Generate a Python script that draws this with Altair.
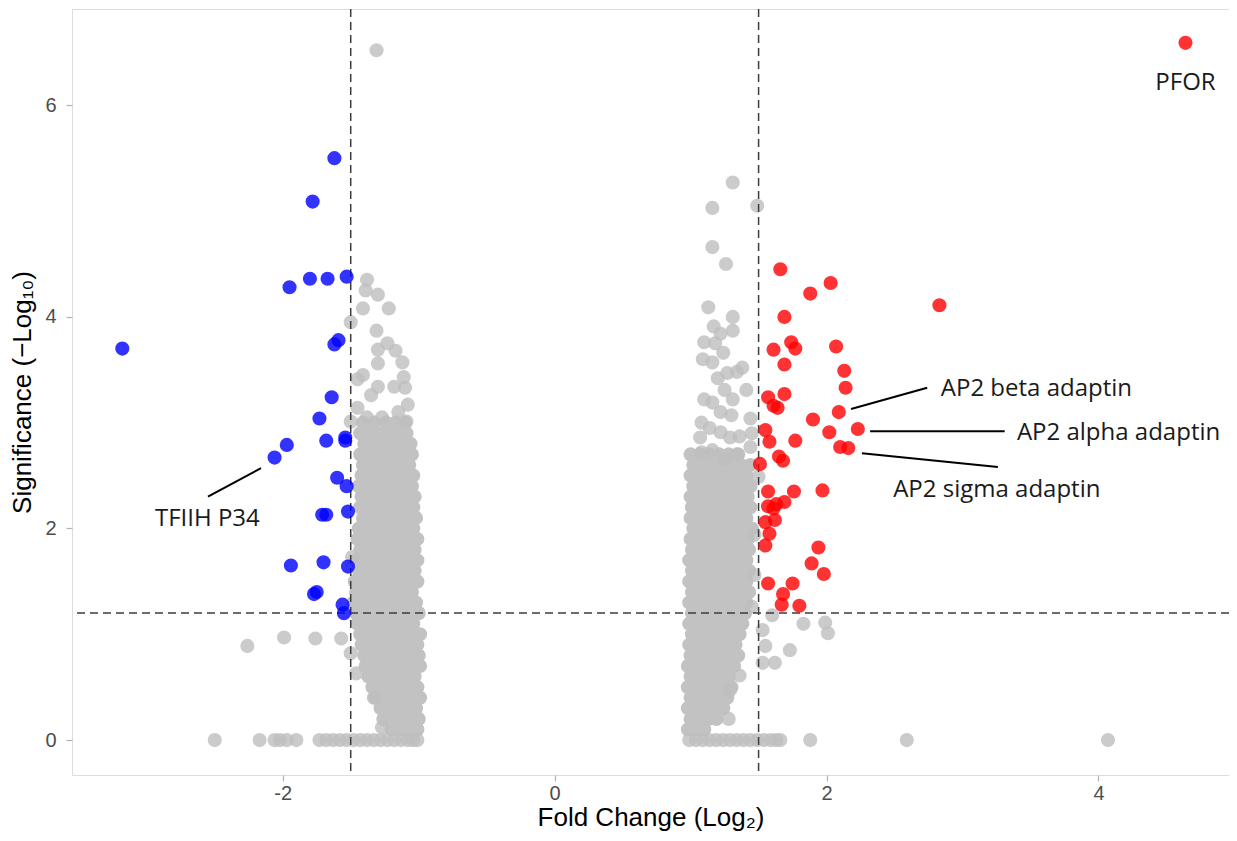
import altair as alt
import pandas as pd

# ---------------- data ----------------
# significantly down-regulated proteins (blue)
down_x = [-3.18, -1.62, -1.78, -1.95, -1.80, -1.67, -1.53, -1.59, -1.62, -1.64,
          -1.73, -1.68, -1.54, -1.54, -1.97, -2.06, -1.60, -1.53, -1.71, -1.68,
          -1.52, -1.94, -1.70, -1.52, -1.77, -1.75, -1.56, -1.55]
down_y = [3.70, 5.50, 5.09, 4.28, 4.36, 4.36, 4.38, 3.78, 3.74, 3.24,
          3.04, 2.83, 2.86, 2.83, 2.79, 2.67, 2.48, 2.40, 2.13, 2.13,
          2.16, 1.65, 1.68, 1.64, 1.38, 1.40, 1.28, 1.20]

# significantly up-regulated proteins (red)
up_x = [4.64, 2.83, 1.66, 2.03, 1.88, 1.69, 1.61, 1.74, 1.77, 2.07,
        1.69, 2.13, 2.14, 1.57, 1.69, 1.61, 1.64, 2.09, 1.90, 2.02,
        2.23, 1.55, 1.58, 1.77, 2.10, 2.16, 1.65, 1.68, 1.51, 1.57,
        1.76, 1.97, 1.57, 1.61, 1.63, 1.69, 1.55, 1.62, 1.58, 1.55,
        1.94, 1.89, 1.98, 1.57, 1.75, 1.68, 1.67, 1.80]
up_y = [6.59, 4.11, 4.45, 4.32, 4.22, 4.00, 3.69, 3.76, 3.70, 3.72,
        3.55, 3.49, 3.33, 3.24, 3.27, 3.16, 3.14, 3.10, 3.03, 2.91,
        2.94, 2.93, 2.82, 2.83, 2.77, 2.76, 2.68, 2.64, 2.61, 2.35,
        2.35, 2.36, 2.21, 2.19, 2.23, 2.25, 2.06, 2.08, 1.95, 1.84,
        1.82, 1.67, 1.57, 1.48, 1.48, 1.38, 1.28, 1.27]

# non-significant proteins: scattered ones
grey_x = [-1.31, -1.38, -1.39, -1.30, -1.41, -1.22, -1.50, -1.31, -1.23, -1.30,
          -1.17, -1.30, -1.12, -1.41, -1.45, -1.11, -1.30, -1.18, -1.10, -1.35,
          -1.08, -1.45, -1.15, -1.50, -1.38, -1.27, -1.09,
          -2.26, -1.99, -1.76, -1.57, -1.50, -1.46, -1.33, -1.27, -1.49,
          1.31, 1.16, 1.49, 1.16, 1.26, 1.13, 1.31, 1.17, 1.31, 1.22,
          1.10, 1.18, 1.24, 1.09, 1.16, 1.38, 1.34, 1.27, 1.20, 1.41,
          1.25, 1.10, 1.31, 1.16, 1.30, 1.22, 1.08, 1.44, 1.14, 1.22,
          1.36, 1.07, 1.45, 1.29, 1.08, 1.16, 1.34, 1.25, 1.44,
          1.50, 1.47, 1.47, 1.45,
          1.60, 1.83, 1.99, 2.01, 1.53, 1.55, 1.73, 1.53, 1.62, 1.36, 1.28, 1.29]
grey_y = [6.52, 4.35, 4.25, 4.21, 4.08, 4.08, 3.95, 3.87, 3.75, 3.69,
          3.68, 3.56, 3.57, 3.45, 3.41, 3.43, 3.34, 3.34, 3.33, 3.26,
          3.17, 3.14, 3.10, 3.01, 3.05, 3.05, 3.01,
          0.89, 0.97, 0.96, 0.96, 0.82, 0.63, 0.40, 0.12, 1.73,
          5.27, 5.03, 5.05, 4.66, 4.50, 4.09, 4.00, 3.91, 3.87, 3.84,
          3.76, 3.75, 3.66, 3.60, 3.57, 3.52, 3.48, 3.47, 3.42, 3.31,
          3.31, 3.22, 3.22, 3.19, 3.07, 3.10, 3.00, 3.04, 2.95, 2.91,
          2.87, 2.86, 2.90, 2.86, 2.72, 2.74, 2.70, 2.65, 2.77,
          2.49, 1.94, 1.56, 1.26,
          1.18, 1.10, 1.11, 1.01, 1.04, 0.89, 0.85, 0.73, 0.73, 0.61, 0.20, 0.47]

# non-significant proteins with significance 0
zero_x = [-2.50, -2.17, -2.06, -2.02, -1.97, -1.90, -1.73, -1.68, -1.63, -1.58,
          -1.53, -1.48, -1.43, -1.38, -1.33, -1.28, -1.23, -1.18, -1.13, -1.08,
          -1.04, -1.01, 0.99, 1.04, 1.09, 1.14, 1.19, 1.24, 1.29, 1.34,
          1.39, 1.44, 1.49, 1.54, 1.59, 1.63, 1.66, 1.88, 2.59, 4.07]

# dense cloud, left band (significance level, fold changes)
left_rows_y = [3.0, 2.9, 2.8, 2.7, 2.6, 2.5, 2.4, 2.3, 2.2, 2.1,
               2.0, 1.9, 1.8, 1.7, 1.6, 1.5, 1.4, 1.3, 1.2, 1.1,
               1.0, 0.9, 0.8, 0.7, 0.6, 0.5, 0.4, 0.3, 0.2, 0.1]
left_rows_x = [
    [-1.41, -1.33, -1.24, -1.17, -1.10],
    [-1.43, -1.37, -1.30, -1.23, -1.16, -1.09],
    [-1.40, -1.33, -1.27, -1.20, -1.13, -1.06],
    [-1.43, -1.36, -1.30, -1.24, -1.17, -1.10, -1.05],
    [-1.41, -1.34, -1.27, -1.21, -1.14, -1.07],
    [-1.42, -1.36, -1.29, -1.22, -1.16, -1.09, -1.04],
    [-1.44, -1.38, -1.31, -1.25, -1.18, -1.11, -1.05],
    [-1.42, -1.35, -1.28, -1.21, -1.15, -1.08, -1.03],
    [-1.43, -1.37, -1.30, -1.24, -1.17, -1.10, -1.04],
    [-1.41, -1.34, -1.27, -1.20, -1.14, -1.07, -1.02],
    [-1.44, -1.38, -1.31, -1.24, -1.17, -1.10, -1.04],
    [-1.45, -1.39, -1.32, -1.26, -1.19, -1.12, -1.06, -1.01],
    [-1.43, -1.36, -1.29, -1.22, -1.15, -1.09, -1.03],
    [-1.46, -1.40, -1.33, -1.26, -1.19, -1.12, -1.06, -1.01],
    [-1.44, -1.37, -1.30, -1.23, -1.16, -1.09, -1.03],
    [-1.47, -1.41, -1.34, -1.27, -1.20, -1.13, -1.07, -1.01],
    [-1.46, -1.39, -1.32, -1.25, -1.18, -1.11, -1.05],
    [-1.48, -1.42, -1.35, -1.28, -1.21, -1.14, -1.08, -1.02],
    [-1.46, -1.39, -1.32, -1.25, -1.18, -1.11, -1.05, -1.00],
    [-1.45, -1.38, -1.31, -1.24, -1.17, -1.10, -1.04],
    [-1.43, -1.37, -1.30, -1.23, -1.16, -1.09, -1.03, -0.99],
    [-1.42, -1.35, -1.28, -1.21, -1.14, -1.07, -1.01],
    [-1.40, -1.34, -1.27, -1.20, -1.13, -1.06, -1.00],
    [-1.39, -1.32, -1.25, -1.18, -1.11, -1.05, -0.99],
    [-1.37, -1.30, -1.23, -1.16, -1.09, -1.03],
    [-1.34, -1.28, -1.21, -1.14, -1.07, -1.01],
    [-1.32, -1.25, -1.18, -1.11, -1.05, -0.99],
    [-1.28, -1.22, -1.15, -1.08, -1.02],
    [-1.26, -1.19, -1.12, -1.06, -1.00],
    [-1.20, -1.13, -1.07, -1.01],
]

# dense cloud, right band
right_rows_y = [2.7, 2.6, 2.5, 2.4, 2.3, 2.2, 2.1, 2.0, 1.9, 1.8,
                1.7, 1.6, 1.5, 1.4, 1.3, 1.2, 1.1, 1.0, 0.9, 0.8,
                0.7, 0.6, 0.5, 0.4, 0.3, 0.2, 0.1]
right_rows_x = [
    [1.00, 1.07, 1.14, 1.21, 1.28, 1.35],
    [1.02, 1.09, 1.16, 1.23, 1.30, 1.37, 1.44],
    [1.00, 1.06, 1.13, 1.20, 1.27, 1.34, 1.41],
    [1.02, 1.09, 1.16, 1.23, 1.30, 1.37, 1.44],
    [1.00, 1.07, 1.14, 1.21, 1.28, 1.35, 1.42],
    [1.01, 1.08, 1.15, 1.22, 1.29, 1.36, 1.44],
    [1.00, 1.06, 1.13, 1.20, 1.27, 1.34, 1.41],
    [1.02, 1.09, 1.16, 1.23, 1.30, 1.37, 1.45],
    [1.00, 1.07, 1.14, 1.21, 1.28, 1.35, 1.42],
    [1.01, 1.08, 1.15, 1.22, 1.29, 1.36, 1.43],
    [0.99, 1.06, 1.13, 1.20, 1.27, 1.34, 1.41],
    [1.01, 1.08, 1.15, 1.22, 1.29, 1.36, 1.43],
    [0.99, 1.06, 1.13, 1.20, 1.27, 1.34, 1.41],
    [1.01, 1.08, 1.15, 1.22, 1.29, 1.36, 1.43],
    [0.99, 1.06, 1.13, 1.20, 1.27, 1.34, 1.41],
    [1.01, 1.08, 1.15, 1.22, 1.29, 1.36, 1.40],
    [0.99, 1.06, 1.13, 1.20, 1.27, 1.34, 1.38],
    [1.01, 1.08, 1.15, 1.22, 1.29, 1.36],
    [0.99, 1.06, 1.13, 1.20, 1.27, 1.33],
    [1.00, 1.07, 1.14, 1.21, 1.28, 1.35],
    [0.98, 1.05, 1.12, 1.19, 1.26, 1.32],
    [1.00, 1.07, 1.14, 1.21, 1.28],
    [0.98, 1.05, 1.12, 1.19, 1.26, 1.30],
    [1.00, 1.07, 1.14, 1.21, 1.27],
    [0.98, 1.05, 1.12, 1.18, 1.24],
    [1.00, 1.07, 1.13, 1.19],
    [0.98, 1.04, 1.10],
]

# thresholds
fc_cut = [-1.5, 1.5]
sig_cut = [1.2]

# labels
label_text = ["PFOR", "AP2 beta adaptin", "AP2 alpha adaptin", "AP2 sigma adaptin", "TFIIH P34"]
label_x = [4.64, 2.84, 3.40, 2.49, -2.94]
label_y = [6.21, 3.32, 2.90, 2.36, 2.09]
label_align = ["center", "left", "left", "left", "left"]
leader_x1 = [2.18, 2.32, 2.26, -2.16]
leader_y1 = [3.13, 2.92, 2.71, 2.57]
leader_x2 = [2.74, 3.31, 3.26, -2.55]
leader_y2 = [3.33, 2.92, 2.58, 2.30]

# ---------------- tables ----------------
cx, cy = [], []
for yv, xs_ in zip(left_rows_y, left_rows_x):
    cx += xs_
    cy += [yv] * len(xs_)
for yv, xs_ in zip(right_rows_y, right_rows_x):
    cx += xs_
    cy += [yv] * len(xs_)
core_df = pd.DataFrame({"fc": cx, "sig": cy})
grey_df = pd.DataFrame({"fc": grey_x + zero_x, "sig": grey_y + [0.0] * len(zero_x)})
down_df = pd.DataFrame({"fc": down_x, "sig": down_y})
up_df = pd.DataFrame({"fc": up_x, "sig": up_y})
lab_df = pd.DataFrame({"t": label_text, "fc": label_x, "sig": label_y, "al": label_align})
lead_df = pd.DataFrame({"fc": leader_x1, "sig": leader_y1, "fc2": leader_x2, "sig2": leader_y2})

xs = alt.Scale(domain=[-3.55, 4.96], nice=False, zero=False)
ys = alt.Scale(domain=[-0.33, 6.91], nice=False, zero=False)

AX = dict(grid=False, domain=False, tickColor="#b3b3b3", tickWidth=1.2, tickSize=6,
          labelColor="#4d4d4d", labelFont="Liberation Sans", labelFontSize=20,
          titleColor="#000000", titleFont="Liberation Sans",
          titleFontWeight="normal", labelExpr="'' + datum.value")

X = alt.X("fc:Q", scale=xs, axis=alt.Axis(values=[-2, 0, 2, 4], title="Fold Change (Log₂)",
                                          labelPadding=2, titlePadding=1, titleFontSize=26, **AX))
Y = alt.Y("sig:Q", scale=ys, axis=alt.Axis(values=[0, 2, 4, 6], title="Significance (−Log₁₀)",
                                           labelPadding=10, titlePadding=9, titleFontSize=26, **AX))

SZ = 200
core = alt.Chart(core_df).mark_circle(color="#c2c2c2", size=SZ, opacity=1).encode(x=X, y=Y)
grey = alt.Chart(grey_df).mark_circle(color="#bebebe", size=SZ, opacity=0.8).encode(x="fc:Q", y="sig:Q")
down = alt.Chart(down_df).mark_circle(color="#0000ff", size=SZ, opacity=0.8).encode(x="fc:Q", y="sig:Q")
up = alt.Chart(up_df).mark_circle(color="#ff0000", size=SZ, opacity=0.8).encode(x="fc:Q", y="sig:Q")

vrule = alt.Chart(pd.DataFrame({"fc": fc_cut})).mark_rule(
    color="#3c3c3c", strokeDash=[8, 5], strokeWidth=1.5).encode(x="fc:Q")
hrule = alt.Chart(pd.DataFrame({"sig": sig_cut})).mark_rule(
    color="#3c3c3c", strokeDash=[8, 5], strokeWidth=1.5).encode(y="sig:Q")

leaders = alt.Chart(lead_df).mark_rule(color="#000000", strokeWidth=2).encode(
    x="fc:Q", y="sig:Q", x2="fc2:Q", y2="sig2:Q")
labels_c = alt.Chart(lab_df[lab_df.al == "center"]).mark_text(
    font="Open Sans", fontSize=24, color="#1a1a1a", align="center", baseline="middle").encode(
    x="fc:Q", y="sig:Q", text="t:N")
labels_l = alt.Chart(lab_df[lab_df.al == "left"]).mark_text(
    font="Open Sans", fontSize=24, color="#1a1a1a", align="left", baseline="middle").encode(
    x="fc:Q", y="sig:Q", text="t:N")

chart = alt.layer(core, grey, vrule, hrule, down, up, leaders, labels_c, labels_l).properties(
    width=1157, height=766,
    autosize="none",
    padding={"left": 64, "top": 1, "right": 0, "bottom": 56},
).configure_view(stroke="#b8b8b8", strokeWidth=1.2).configure(background="white")

chart.save("out.html", embed_options={"renderer": "svg", "actions": False})
